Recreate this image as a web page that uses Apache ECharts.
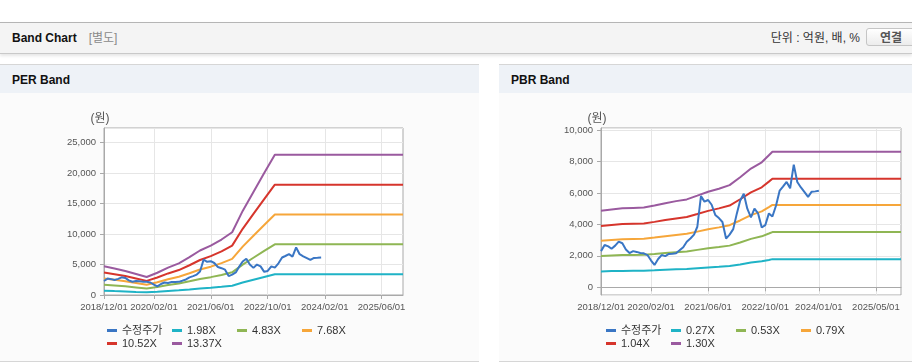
<!DOCTYPE html>
<html>
<head>
<meta charset="utf-8">
<script src="https://cdn.jsdelivr.net/npm/echarts@6/dist/echarts.min.js"></script>
<style>
  html, body { margin: 0; padding: 0; width: 912px; height: 364px; overflow: hidden; background: #fff;
    font-family: 'Liberation Sans', Arial, 'Noto Sans CJK KR', sans-serif; }
  .bar { position: absolute; left: 0; top: 22px; width: 912px; height: 30px; background: #f4f4f4;
    border-top: 1px solid #b5b5b5; border-bottom: 1px solid #c9c9c9; box-shadow: 0 2px 3px rgba(0,0,0,0.10); }
  .bar .title { position: absolute; left: 12px; top: 0; line-height: 30px; font-size: 12px; font-weight: bold; color: #111; }
  .bar .title span { font-weight: normal; color: #8a8a8a; margin-left: 12px; }
  .bar .unit { position: absolute; right: 52px; top: 0; line-height: 30px; font-size: 12px; color: #333; }
  .bar .btn { position: absolute; left: 866px; top: 5px; width: 60px; height: 18px; line-height: 18px; box-sizing: border-box;
    border: 1px solid #c5c5c5; border-radius: 3px; background: linear-gradient(#fff, #ececec);
    font-size: 12px; font-weight: bold; color: #555; padding-left: 13px; }
  .panel { position: absolute; top: 64px; height: 296px; background: #fbfbfb;
    border-top: 1px solid #d6d6d6; border-bottom: 1px solid #d6d6d6; }
  .panel .head { height: 28px; line-height: 31px; overflow: hidden; background: #eef2f7; padding-left: 12px;
    font-size: 12px; font-weight: bold; color: #111; }
  #chart { position: absolute; left: 0; top: 0; width: 912px; height: 364px; z-index: 5; }
</style>
</head>
<body>
<div class="bar">
  <div class="title">Band Chart<span>[별도]</span></div>
  <div class="unit">단위 : 억원, 배, %</div>
  <div class="btn">연결</div>
</div>
<div class="panel" style="left:0;width:479px"><div class="head">PER Band</div></div>
<div class="panel" style="left:499px;width:413px"><div class="head">PBR Band</div></div>
<div id="chart"></div>
<script>
const xMin = '2018/12/01';
const xMax = '2025/12/01';

// 수정주가, monthly from 2018/12
const priceStart = '2018/12/01';
const price = [2300, 2690, 2600, 2450, 2650, 2900, 2800, 2400, 2180, 2300,
  2250, 2180, 2160, 2050, 1700, 1420, 1800, 2050, 1980, 2120,
  2130, 2160, 2350, 2550, 2900, 3100, 3350, 3850, 5800, 5450,
  5550, 5250, 4600, 4400, 4150, 3100, 3350, 3700, 4700, 5500,
  5950, 5000, 4450, 5000, 4700, 3800, 3950, 4700, 4500, 5200,
  6150, 6400, 6700, 6300, 7800, 6700, 6350, 6050, 5750, 6080,
  6100, 6140];

// PER band
const perBandDates = ['2018/12/01', '2019/03/01', '2019/06/01', '2019/09/01', '2019/12/01', '2020/03/01',
  '2020/06/01', '2020/09/01', '2020/12/01', '2021/03/01', '2021/06/01', '2021/09/01', '2021/12/01',
  '2022/03/01', '2022/06/01', '2022/09/01', '2022/12/01', '2025/12/01'];
const perNames = ['1.98X', '4.83X', '7.68X', '10.52X', '13.37X'];
const per198 = [700, 640, 590, 510, 440, 540, 670, 770, 920, 1080, 1200, 1350, 1530, 2040, 2500, 2960, 3410, 3410];
const per483 = [1700, 1570, 1430, 1250, 1070, 1320, 1630, 1880, 2240, 2640, 2930, 3290, 3720, 4990, 6110, 7230, 8310, 8310];
const per768 = [2700, 2500, 2270, 1980, 1690, 2100, 2580, 2990, 3560, 4190, 4650, 5230, 5920, 7930, 9710, 11490, 13210, 13210];
const per1052 = [3700, 3420, 3110, 2710, 2320, 2870, 3540, 4090, 4880, 5740, 6370, 7160, 8100, 10860, 13300, 15740, 18100, 18100];
const per1337 = [4700, 4350, 3950, 3450, 2950, 3650, 4500, 5200, 6200, 7300, 8100, 9100, 10300, 13800, 16900, 20000, 23000, 23000];
const perTicks = ['2018/12/01', '2020/02/01', '2021/06/01', '2022/10/01', '2024/02/01', '2025/06/01'];

// PBR band
const pbrBandDates = ['2018/12/01', '2019/03/01', '2019/06/01', '2019/09/01', '2019/12/01', '2020/03/01',
  '2020/06/01', '2020/09/01', '2020/12/01', '2021/03/01', '2021/06/01', '2021/09/01', '2021/12/01',
  '2022/03/01', '2022/06/01', '2022/09/01', '2022/11/01', '2022/12/01', '2025/12/01'];
const pbrNames = ['0.27X', '0.53X', '0.79X', '1.04X', '1.30X'];
const pbr027 = [1010, 1030, 1040, 1050, 1060, 1080, 1110, 1140, 1160, 1210, 1260, 1300, 1350, 1450, 1570, 1650, 1740, 1790, 1790];
const pbr053 = [1990, 2020, 2050, 2060, 2070, 2120, 2180, 2230, 2280, 2380, 2480, 2560, 2650, 2850, 3080, 3240, 3420, 3510, 3510];
const pbr079 = [2960, 3010, 3050, 3070, 3090, 3160, 3250, 3330, 3400, 3540, 3690, 3810, 3950, 4250, 4590, 4830, 5100, 5240, 5240];
const pbr104 = [3900, 3960, 4020, 4040, 4060, 4160, 4280, 4380, 4470, 4660, 4860, 5020, 5200, 5600, 6040, 6360, 6720, 6900, 6900];
const pbr130 = [4870, 4950, 5020, 5050, 5080, 5200, 5350, 5480, 5590, 5830, 6080, 6270, 6500, 7000, 7550, 7950, 8400, 8620, 8620];
const pbrTicks = ['2018/12/01', '2020/02/01', '2021/06/01', '2022/10/01', '2024/01/01', '2025/05/01'];

const priceName = '수정주가';
const bandColors = ['#1fb3c6', '#8fb654', '#f6a63a', '#d6352c', '#9a5a9f'];
const priceColor = '#3a76c4';

const axisFont = "'Liberation Sans', Arial, sans-serif";
const legendFont = "'Liberation Sans', Arial, 'Noto Sans CJK KR', sans-serif";
const lineCol = '#a9a9a9';
const gridCol = '#e6e6e6';

function ts(s) {
  const [y, m, d] = s.split('/').map(Number);
  return new Date(y, m - 1, d).getTime();
}
function pad(n) { return n < 10 ? '0' + n : '' + n; }
function fmtDate(v) {
  const d = new Date(v);
  return d.getFullYear() + '/' + pad(d.getMonth() + 1) + '/' + pad(d.getDate());
}

const [ps, pm] = priceStart.split('/').map(Number);
const priceData = price.map((v, i) => [new Date(ps, pm - 1 + i, 1).getTime(), v]);

function bandSeries(name, dates, vals, color, idx) {
  return {
    name, type: 'line', xAxisIndex: idx, yAxisIndex: idx,
    data: dates.map((d, i) => [ts(d), vals[i]]),
    showSymbol: false, symbol: 'none', lineStyle: { width: 2, color }, itemStyle: { color }
  };
}

function makeX(idx, ticks) {
  const vals = ticks.map(ts);
  return {
    type: 'value', gridIndex: idx, min: ts(xMin), max: ts(xMax),
    axisLine: { show: true, lineStyle: { color: lineCol } },
    axisTick: { show: true, length: 4, customValues: vals, lineStyle: { color: lineCol } },
    axisLabel: {
      customValues: vals, formatter: fmtDate, showMinLabel: true, showMaxLabel: true, hideOverlap: false,
      color: '#555', fontSize: 9.5, fontFamily: axisFont, margin: 7
    },
    splitLine: { show: true, lineStyle: { color: gridCol } }
  };
}

function makeY(idx, min, max) {
  return {
    type: 'value', gridIndex: idx, min, max, splitNumber: 5,
    name: '(원)', nameLocation: 'end', nameGap: 3,
    nameTextStyle: { color: '#555', fontSize: 12, fontFamily: legendFont, padding: [0, 8, 0, 0] },
    axisLine: { show: true, lineStyle: { color: lineCol } },
    axisTick: { show: true, length: 4, lineStyle: { color: lineCol } },
    axisLabel: {
      showMinLabel: min === 0, showMaxLabel: false,
      formatter: v => v.toLocaleString('en-US'),
      color: '#555', fontSize: 9.5, fontFamily: axisFont, margin: 8
    },
    splitLine: { show: true, lineStyle: { color: gridCol } }
  };
}

function makeLegend(left, names) {
  return {
    left, top: 324, width: 262, padding: 0, itemGap: 0,
    itemWidth: 10, itemHeight: 3, icon: 'rect', selectedMode: false,
    data: [priceName].concat(names),
    textStyle: { width: 50, fontSize: 11, lineHeight: 13, color: '#333', fontFamily: legendFont }
  };
}

const perBands = [per198, per483, per768, per1052, per1337];
const pbrBands = [pbr027, pbr053, pbr079, pbr104, pbr130];

const series = [];
perNames.forEach((n, i) => series.push(bandSeries(n, perBandDates, perBands[i], bandColors[i], 0)));
series.push({ name: priceName, type: 'line', xAxisIndex: 0, yAxisIndex: 0, data: priceData,
  showSymbol: false, symbol: 'none', lineStyle: { width: 2, color: priceColor }, itemStyle: { color: priceColor } });
pbrNames.forEach((n, i) => series.push(bandSeries(n, pbrBandDates, pbrBands[i], bandColors[i], 1)));
series.push({ name: priceName, type: 'line', xAxisIndex: 1, yAxisIndex: 1, data: priceData,
  showSymbol: false, symbol: 'none', lineStyle: { width: 2, color: priceColor }, itemStyle: { color: priceColor } });

const chart = echarts.init(document.getElementById('chart'));
chart.setOption({
  animation: false,
  backgroundColor: 'transparent',
  grid: [
    { left: 104, top: 128, width: 299, height: 167, show: true, borderColor: lineCol, backgroundColor: '#fff' },
    { left: 601, top: 128, width: 300, height: 167, show: true, borderColor: lineCol, backgroundColor: '#fff' }
  ],
  xAxis: [makeX(0, perTicks), makeX(1, pbrTicks)],
  yAxis: [makeY(0, 0, 27400), makeY(1, -490, 10130)],
  legend: [makeLegend(107, perNames), makeLegend(606, pbrNames)],
  series
});
</script>
</body>
</html>
